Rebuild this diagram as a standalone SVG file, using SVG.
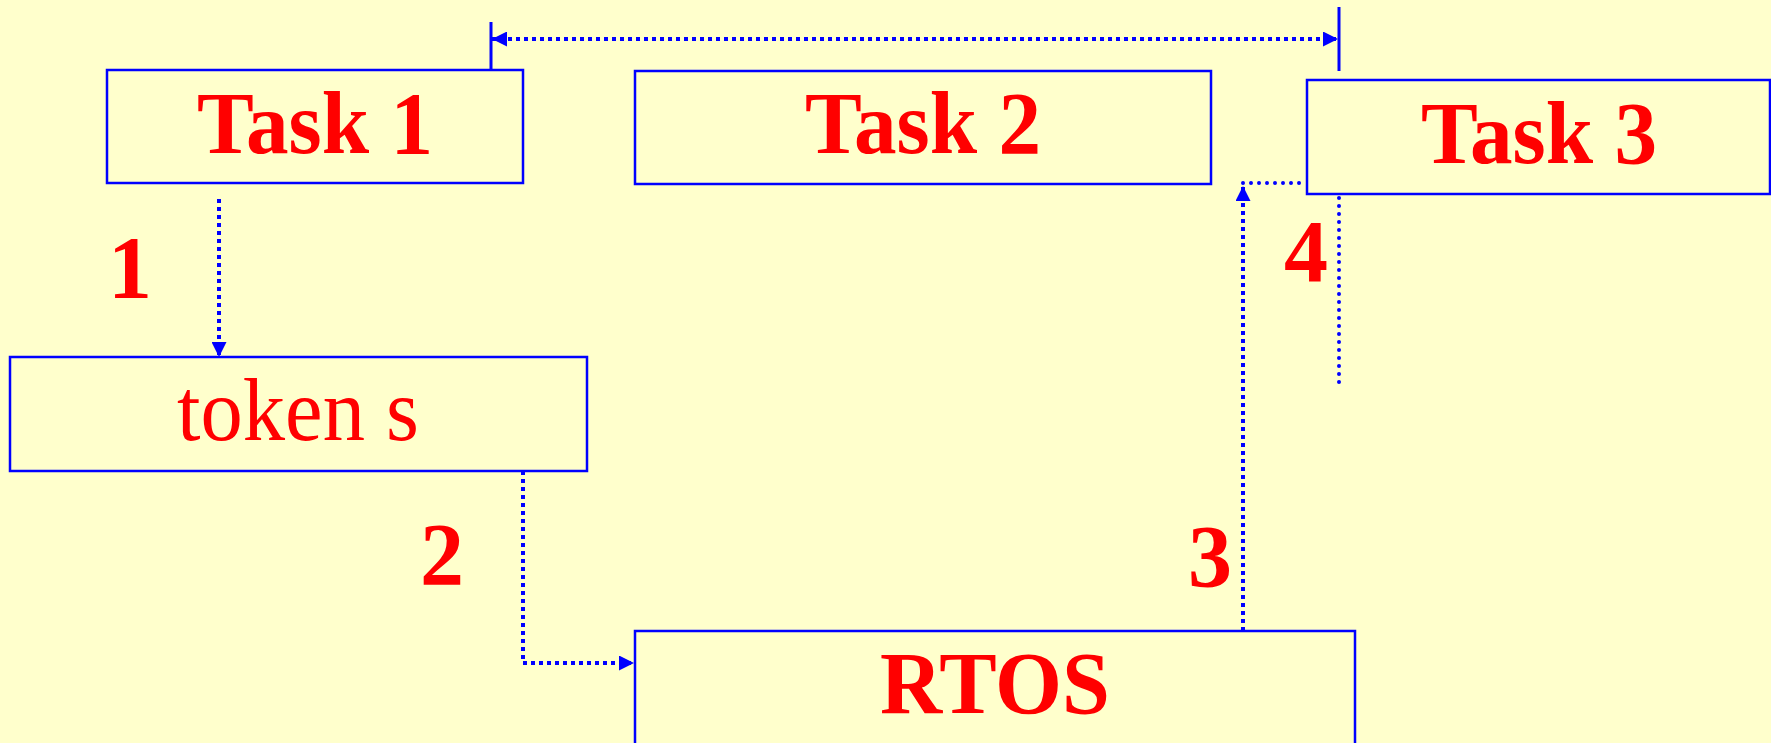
<svg xmlns="http://www.w3.org/2000/svg" width="1771" height="743" viewBox="0 0 1771 743">
<defs>
<marker id="ah" viewBox="0 0 15 15" refX="15" refY="7.5" markerWidth="15" markerHeight="15" markerUnits="userSpaceOnUse" orient="auto-start-reverse">
<path d="M0,0 L15,7.5 L0,15 Z" fill="#0000FF"/>
</marker>
<style>
.bg{fill:#FFFFCC}
.box{fill:#FFFFCC;stroke:#0000FF;stroke-width:2.5}
.t{font-family:"Liberation Serif","Times New Roman",serif;fill:#FF0000;text-anchor:middle}
.b{font-weight:bold}
.sq{fill:none;stroke:#0000FF;stroke-width:4;stroke-dasharray:4 4}
.rd{fill:none;stroke:#0000FF;stroke-width:4;stroke-linecap:round;stroke-dasharray:0 8}
.solid{stroke:#0000FF;stroke-width:3}
</style>
</defs>
<rect class="bg" x="0" y="0" width="1771" height="743"/>
<g id="task1">
<rect class="box" x="107" y="70" width="416" height="113"/>
<text class="t b" x="315" y="153" font-size="89" textLength="236" lengthAdjust="spacingAndGlyphs">Task 1</text>
</g>
<g id="task2">
<rect class="box" x="635" y="71" width="576" height="113"/>
<text class="t b" x="923" y="153" font-size="89" textLength="236" lengthAdjust="spacingAndGlyphs">Task 2</text>
</g>
<g id="task3">
<rect class="box" x="1307" y="80" width="463" height="114"/>
<text class="t b" x="1539" y="163" font-size="89" textLength="236" lengthAdjust="spacingAndGlyphs">Task 3</text>
</g>
<g id="tokens">
<rect class="box" x="10" y="357" width="577" height="114"/>
<text class="t" x="298" y="440" font-size="88" textLength="242" lengthAdjust="spacingAndGlyphs">token s</text>
</g>
<g id="rtos">
<rect class="box" x="635" y="631" width="720" height="130"/>
<text class="t b" x="995" y="713" font-size="89" textLength="230" lengthAdjust="spacingAndGlyphs">RTOS</text>
</g>
<g id="connectors">
<line class="solid" x1="491" y1="22" x2="491" y2="70"/>
<line class="solid" x1="1339" y1="7" x2="1339" y2="71"/>
<line class="sq" x1="492" y1="39" x2="1338" y2="39" marker-start="url(#ah)" marker-end="url(#ah)"/>
<line class="sq" x1="219" y1="199" x2="219" y2="357" marker-end="url(#ah)"/>
<polyline class="sq" points="523,471 523,663 634,663" marker-end="url(#ah)"/>
<line class="sq" x1="1243" y1="631" x2="1243" y2="186" marker-end="url(#ah)"/>
<line class="rd" x1="1243" y1="183" x2="1305" y2="183"/>
<line class="rd" x1="1339" y1="198" x2="1339" y2="390"/>
</g>
<g id="labels">
<text class="t b" x="130" y="297" font-size="88">1</text>
<text class="t b" x="442" y="584" font-size="88">2</text>
<text class="t b" x="1210" y="586" font-size="88">3</text>
<text class="t b" x="1306" y="281" font-size="88">4</text>
</g>
</svg>
